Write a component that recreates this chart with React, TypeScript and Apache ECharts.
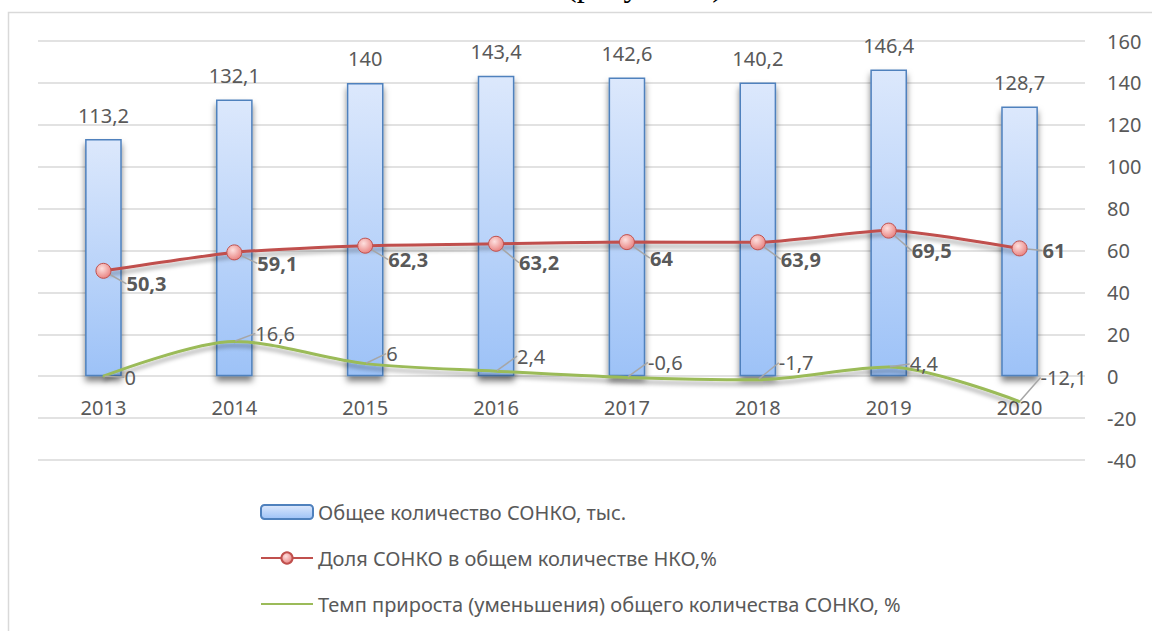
import React, { useEffect, useRef } from "react";
import * as echarts from "echarts";

const years = ["2013", "2014", "2015", "2016", "2017", "2018", "2019", "2020"];
const totalSonko = [113.2, 132.1, 140, 143.4, 142.6, 140.2, 146.4, 128.7];
const shareSonko = [50.3, 59.1, 62.3, 63.2, 64, 63.9, 69.5, 61];
const growthRate = [0, 16.6, 6, 2.4, -0.6, -1.7, 4.4, -12.1];
const axisMin = -40;
const axisMax = 160;
const axisStep = 20;

const seriesNames = [
  "Общее количество СОНКО, тыс.",
  "Доля СОНКО в общем количестве НКО,%",
  "Темп прироста (уменьшения) общего количества СОНКО, %",
];

// label shifts (style only)
const shareLabelDy = [13, 11, 14, 19, 16, 17, 20, 2];
const growthLabelDy = [1, -8, -10, -15, -15, -17, -3, -24];

const FONT = "Noto Sans";
const TXT = "#595959";
const fmt = (v: number) => String(v).replace(".", ",");

export default function App() {
  const ref = useRef<HTMLDivElement>(null);
  useEffect(() => {
    if (!ref.current) return;
    const chart = echarts.init(ref.current, undefined, { renderer: "svg" });
    chart.setOption({
      animation: false,
      backgroundColor: "#ffffff",
      textStyle: { fontFamily: FONT },
      graphic: [
        {
          type: "rect",
          shape: { x: 8.5, y: 12.5, width: 1300, height: 800 },
          style: { fill: "none", stroke: "#d9d9d9", lineWidth: 1.5 },
          silent: true,
        },
        {
          type: "text",
          x: 566,
          y: -15,
          style: {
            text: "(рисунок 4)",
            font: "32px 'Liberation Serif'",
            fill: "#000",
            verticalAlign: "middle",
          },
        },
      ],
      grid: { left: 38, right: 67, top: 41, bottom: 171, containLabel: false },
      legend: {
        orient: "vertical",
        left: 255,
        top: 497,
        itemWidth: 52,
        itemHeight: 14,
        itemGap: 26,
        textStyle: { color: TXT, fontSize: 20, fontFamily: FONT },
        data: [
          { name: seriesNames[0] },
          { name: seriesNames[1] },
          { name: seriesNames[2], itemStyle: { opacity: 0 } },
        ],
      },
      xAxis: {
        type: "category",
        data: years,
        position: "bottom",
        axisLine: { show: false },
        axisTick: { show: false },
        axisLabel: { color: TXT, fontSize: 20, margin: -63, fontFamily: FONT },
      },
      yAxis: {
        type: "value",
        position: "right",
        min: axisMin,
        max: axisMax,
        interval: axisStep,
        axisLine: { show: false },
        axisTick: { show: false },
        axisLabel: { color: TXT, fontSize: 20, margin: 22, fontFamily: FONT },
        splitLine: { lineStyle: { color: "#d9d9d9", width: 1.5 } },
      },
      series: [
        {
          name: seriesNames[0],
          type: "bar",
          data: totalSonko,
          barWidth: "28%",
          itemStyle: {
            color: new echarts.graphic.LinearGradient(0, 0, 0, 1, [
              { offset: 0, color: "#dce8fc" },
              { offset: 1, color: "#9dc2f7" },
            ]),
            borderColor: "#4f81bd",
            borderWidth: 1.5,
            shadowColor: "rgba(0,0,0,0.5)",
            shadowBlur: 6,
            shadowOffsetY: 5,
          },
          label: {
            show: true,
            position: "top",
            distance: 14,
            color: TXT,
            fontSize: 20,
            fontFamily: FONT,
            formatter: (p: any) => fmt(p.value),
          },
          z: 1,
        },
        {
          name: seriesNames[1],
          type: "line",
          data: shareSonko,
          smooth: 0.2,
          symbol: "circle",
          symbolSize: 15,
          lineStyle: {
            color: "#c0504d",
            width: 3,
            shadowColor: "rgba(0,0,0,0.35)",
            shadowBlur: 4,
            shadowOffsetY: 4,
          },
          itemStyle: {
            color: new echarts.graphic.RadialGradient(0.4, 0.35, 0.7, [
              { offset: 0, color: "#fde0df" },
              { offset: 1, color: "#e87e7c" },
            ]),
            borderColor: "#c0504d",
            borderWidth: 1,
          },
          label: {
            show: true,
            position: "right",
            distance: 15,
            color: TXT,
            fontSize: 20,
            fontWeight: "bold",
            fontFamily: FONT,
            formatter: (p: any) => fmt(p.value),
          },
          labelLayout: (p: any) => ({ dy: shareLabelDy[p.dataIndex] }),
          labelLine: { show: true, lineStyle: { color: "#a6a6a6", width: 1.5 } },
          z: 3,
        },
        {
          name: seriesNames[2],
          type: "line",
          data: growthRate,
          smooth: 0.3,
          symbol: "circle",
          symbolSize: 2,
          lineStyle: {
            color: "#9bbb59",
            width: 3,
            shadowColor: "rgba(0,0,0,0.35)",
            shadowBlur: 4,
            shadowOffsetY: 4,
          },
          itemStyle: { color: "#9bbb59" },
          label: {
            show: true,
            position: "right",
            distance: 20,
            color: TXT,
            fontSize: 20,
            fontFamily: FONT,
            formatter: (p: any) => fmt(p.value),
          },
          labelLayout: (p: any) => ({ dy: growthLabelDy[p.dataIndex] }),
          labelLine: { show: true, lineStyle: { color: "#a6a6a6", width: 1.5 } },
          z: 2,
        },
      ],
    });
    return () => chart.dispose();
  }, []);
  return (
    <div
      ref={ref}
      style={{ position: "fixed", left: 0, top: 0, width: 1152, height: 631 }}
    />
  );
}
